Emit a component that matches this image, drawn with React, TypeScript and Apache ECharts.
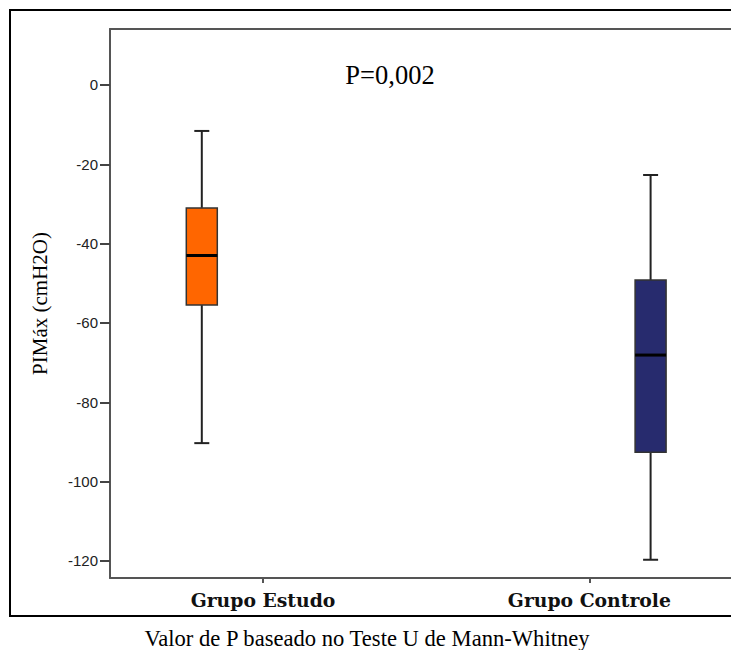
import React, { useEffect, useRef } from "react";
import * as echarts from "echarts";

// ---- data ----
const categories = ["Grupo Estudo", "Grupo Controle"];
const whiskerLow = [-90.3, -119.7];
const quartile1 = [-55.5, -92.6];
const medians = [-43.0, -68.1];
const quartile3 = [-31.0, -49.2];
const whiskerHigh = [-11.6, -22.7];
const boxColors = ["#FF6600", "#272B6E"];
const yTickValues = [0, -20, -40, -60, -80, -100, -120];
const yAxisTitle = "PIMáx (cmH2O)";
const pValueText = "P=0,002";
const captionText = "Valor de P baseado no Teste U de Mann-Whitney";

// ---- layout (SPSS-style offset of boxes relative to category ticks) ----
const SLOT_COUNT = 31;
const labelSlots = [7, 23];
const boxSlots = [4, 26];
const BOX_WIDTH = 31;
const CAP_WIDTH = 15;
const SERIF = "'Times New Roman', 'Liberation Serif', serif";

const slotLabels: string[] = Array.from({ length: SLOT_COUNT }, () => "");
labelSlots.forEach((s, i) => {
  slotLabels[s] = categories[i];
});

const boxData = categories.map((_, i) => [
  boxSlots[i],
  whiskerLow[i],
  quartile1[i],
  medians[i],
  quartile3[i],
  whiskerHigh[i],
]);

export default function App() {
  const ref = useRef<HTMLDivElement>(null);
  useEffect(() => {
    if (!ref.current) return;
    const chart = echarts.init(ref.current, null, { renderer: "svg" });
    const showSlot = (index: number) => labelSlots.indexOf(index) >= 0;
    chart.setOption({
      animation: false,
      backgroundColor: "#ffffff",
      grid: {
        left: 110,
        top: 29,
        width: SLOT_COUNT * 20.4,
        height: 549,
        outerBoundsMode: "none",
        containLabel: false,
        show: false,
      },
      xAxis: [
        {
          type: "category",
          data: slotLabels,
          boundaryGap: true,
          axisLine: { show: true, onZero: false, lineStyle: { color: "#555", width: 2 } },
          axisTick: {
            show: true,
            interval: (index: number) => showSlot(index),
            alignWithLabel: true,
            length: 5,
            lineStyle: { color: "#555", width: 2 },
          },
          axisLabel: {
            interval: (index: number) => showSlot(index),
            fontFamily: "DejaVu Serif",
            fontWeight: "bold",
            fontSize: 18.8,
            color: "#111",
            margin: 12,
          },
          splitLine: { show: false },
        },
        {
          type: "category",
          data: slotLabels,
          position: "top",
          axisLine: { show: true, onZero: false, lineStyle: { color: "#555", width: 2 } },
          axisTick: { show: false },
          axisLabel: { show: false },
          splitLine: { show: false },
        },
      ],
      yAxis: {
        type: "value",
        min: -124.3,
        max: 14.1,
        name: yAxisTitle,
        nameLocation: "middle",
        nameGap: 60,
        nameTextStyle: {
          fontFamily: SERIF,
          fontSize: 21,
          color: "#000",
        },
        axisLine: { show: true, lineStyle: { color: "#555", width: 2 } },
        axisTick: {
          show: true,
          length: 10,
          customValues: yTickValues,
          lineStyle: { color: "#444", width: 2 },
        },
        axisLabel: {
          customValues: yTickValues,
          fontFamily: "'Liberation Sans', Arial, sans-serif",
          fontSize: 15,
          color: "#222",
          margin: 12,
        },
        splitLine: { show: false },
      },
      series: [
        {
          type: "custom",
          data: boxData,
          encode: { x: 0, y: [1, 2, 3, 4, 5] },
          renderItem: (params: any, api: any) => {
            const x = api.value(0);
            const lo = api.coord([x, api.value(1)]);
            const q1 = api.coord([x, api.value(2)]);
            const md = api.coord([x, api.value(3)]);
            const q3 = api.coord([x, api.value(4)]);
            const hi = api.coord([x, api.value(5)]);
            const cx = lo[0];
            const lineStyle = { stroke: "#222", lineWidth: 2 };
            return {
              type: "group",
              children: [
                { type: "line", shape: { x1: cx, y1: hi[1], x2: cx, y2: q3[1] }, style: lineStyle },
                { type: "line", shape: { x1: cx, y1: q1[1], x2: cx, y2: lo[1] }, style: lineStyle },
                { type: "line", shape: { x1: cx - CAP_WIDTH / 2, y1: hi[1], x2: cx + CAP_WIDTH / 2, y2: hi[1] }, style: lineStyle },
                { type: "line", shape: { x1: cx - CAP_WIDTH / 2, y1: lo[1], x2: cx + CAP_WIDTH / 2, y2: lo[1] }, style: lineStyle },
                {
                  type: "rect",
                  shape: { x: cx - BOX_WIDTH / 2, y: q3[1], width: BOX_WIDTH, height: q1[1] - q3[1] },
                  style: { fill: boxColors[params.dataIndex], stroke: "#333", lineWidth: 1.5 },
                },
                {
                  type: "line",
                  shape: { x1: cx - BOX_WIDTH / 2, y1: md[1], x2: cx + BOX_WIDTH / 2, y2: md[1] },
                  style: { stroke: "#000", lineWidth: 3 },
                },
              ],
            };
          },
        },
      ],
      graphic: [
        {
          type: "polyline",
          shape: { points: [[800, 10], [10, 10], [10, 616], [800, 616]] },
          style: { fill: "none", stroke: "#000", lineWidth: 2 },
          z: 100,
        },
        {
          type: "text",
          x: 390,
          y: 75,
          style: {
            text: pValueText,
            fontFamily: SERIF,
            fontSize: 26.5,
            fill: "#000",
            textAlign: "center",
            textVerticalAlign: "middle",
          },
        },
        {
          type: "text",
          x: 367,
          y: 638,
          style: {
            text: captionText,
            fontFamily: SERIF,
            fontSize: 22.6,
            fill: "#000",
            textAlign: "center",
            textVerticalAlign: "middle",
          },
        },
      ],
    });
    return () => chart.dispose();
  }, []);
  return (
    <div
      ref={ref}
      style={{ position: "fixed", left: 0, top: 0, width: 731, height: 650 }}
    />
  );
}
